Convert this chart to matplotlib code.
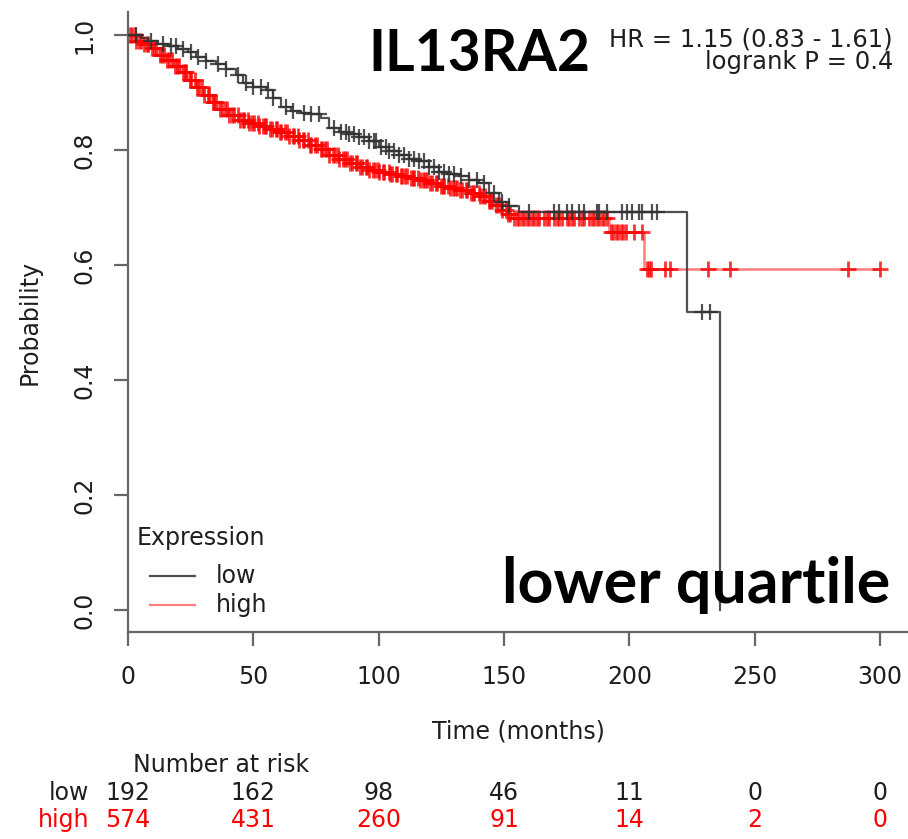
import numpy as np
import matplotlib
matplotlib.use("Agg")
import matplotlib.pyplot as plt
from matplotlib.lines import Line2D

# ---------------- data ----------------
low_times = [0, 5, 8, 12, 16, 20, 24, 27, 31, 35, 39, 43, 46, 50, 55, 58, 61, 65, 69,
             73, 77, 80, 84, 88, 92, 96, 100, 104, 108, 112, 116, 120, 124, 128, 132,
             136, 140, 144, 148, 152, 156, 223, 236]
low_surv = [1.0, 0.995, 0.99, 0.985, 0.98, 0.975, 0.97, 0.962, 0.955, 0.949, 0.94, 0.93,
            0.916, 0.91, 0.905, 0.89, 0.875, 0.868, 0.864, 0.862, 0.855, 0.838, 0.832,
            0.828, 0.823, 0.815, 0.806, 0.798, 0.791, 0.785, 0.78, 0.77, 0.762, 0.758,
            0.754, 0.748, 0.742, 0.725, 0.71, 0.702, 0.693, 0.518, 0.0]
low_end = 236
low_censor = [3, 9, 14, 17, 19, 22, 25, 28, 31, 36, 39, 44, 47, 50, 53, 56, 58, 63, 66,
              70, 73, 76, 82, 85, 87, 88, 90, 92, 94, 96, 98, 99, 101, 103, 104, 106,
              108, 110, 112, 114, 116, 118, 120, 122, 124, 126, 128, 130, 133, 136, 139,
              142, 146, 149, 152, 160, 170, 172, 175, 177, 180, 182, 187, 188, 191, 197,
              199, 201, 204, 205, 209, 211, 229, 232]

high_times = [0, 3, 6, 9, 12, 15, 18, 21, 24, 27, 30, 33, 36, 40, 44, 48, 52, 56, 60,
              64, 68, 72, 76, 80, 84, 88, 92, 96, 100, 104, 108, 112, 116, 120, 124,
              128, 132, 136, 140, 143, 146, 149, 151, 153, 192, 206]
high_surv = [1.0, 0.99, 0.985, 0.978, 0.965, 0.957, 0.946, 0.935, 0.922, 0.909, 0.896,
             0.883, 0.872, 0.861, 0.853, 0.847, 0.842, 0.837, 0.831, 0.825, 0.817, 0.809,
             0.801, 0.792, 0.784, 0.777, 0.771, 0.766, 0.762, 0.758, 0.755, 0.751, 0.747,
             0.743, 0.738, 0.734, 0.730, 0.726, 0.720, 0.712, 0.704, 0.696, 0.689, 0.682,
             0.657, 0.593]
high_end = 300
high_censor = [0.7, 1.4, 2.6, 3.1, 4.3, 5.2, 6.4, 7.7, 8.1, 9.6, 10.4, 11.3, 12.8, 13.5,
               14.2, 15.7, 16.3, 17.4, 18.9, 19.5, 20.2, 21.8, 22.6, 23.3, 24.7, 25.1,
               26.9, 27.4, 28.2, 29.6, 30.3, 31.8, 32.5, 33.9, 34.4, 35.2, 36.7, 37.3,
               38.8, 39.4, 40.1, 41.6, 42.3, 43.7, 44.5, 45.9, 46.2, 47.8, 48.3, 49.6,
               50.4, 51.7, 52.2, 53.8, 54.5, 55.1, 56.6, 57.3, 58.9, 59.4, 60.7, 61.2,
               62.8, 63.5, 64.1, 65.7, 66.4, 67.9, 68.3, 69.6, 70.2, 71.8, 72.5, 73.1,
               74.6, 75.4, 76.9, 77.3, 78.7, 79.5, 80.2, 81.8, 82.4, 83.6, 84.3, 85.9,
               86.5, 87.2, 88.7, 89.3, 90.8, 91.4, 92.6, 93.2, 94.9, 95.5, 96.1, 97.7,
               98.4, 99.8, 100.3, 101.6, 102.2, 103.9, 104.5, 105.1, 106.7, 107.3, 108.8,
               109.4, 110.6, 111.2, 112.9, 113.5, 114.1, 115.7, 116.3, 117.8, 118.5,
               119.2, 120.6, 121.3, 122.8, 123.4, 124.9, 125.6, 126.2, 127.7, 128.3,
               129.8, 130.5, 131.1, 132.6, 133.4, 134.9, 135.3, 136.7, 137.5, 138.2,
               139.8, 140.4, 141.6, 142.3, 143.9, 144.5, 145.2, 146.8, 147.4, 148.6,
               149.3, 150.7, 151.5, 152.4, 154, 155, 156, 157, 158, 159, 160, 161, 162,
               163, 164, 166, 167, 168, 170, 171, 172, 173, 175, 176, 177, 178, 180, 181,
               182, 184, 185, 186, 187, 188, 189, 190, 191,
               192.5, 193.5, 194.5, 195.5, 196.5, 197.5, 198.5, 202, 205,
               207, 207.6, 208.5, 214, 216, 231.5, 240, 287, 300]

group_names = ["low", "high"]
risk_times = [0, 50, 100, 150, 200, 250, 300]
risk_low = [192, 162, 98, 46, 11, 0, 0]
risk_high = [574, 431, 260, 91, 14, 2, 0]

x_ticks = [0, 50, 100, 150, 200, 250, 300]
y_ticks = [0.0, 0.2, 0.4, 0.6, 0.8, 1.0]

title_text = "IL13RA2"
subtitle_text = "lower quartile"
hr_text = "HR = 1.15 (0.83 - 1.61)"
p_text = "logrank P = 0.4"

# ---------------- figure ----------------
W, H = 908, 839
fig = plt.figure(figsize=(W / 100, H / 100), dpi=100)
fig.patch.set_facecolor("white")

def fx(px):
    return px / W

def fy(py):
    return 1 - py / H

ax = fig.add_axes([fx(128), fy(632), fx(908) - fx(128), fy(12) - fy(632)])
ax.set_xlim(0, 311.1)
ax.set_ylim(-0.0383, 1.04)

axis_col = "#666666"
txt_col = "#1e1e1e"
for s in ["top", "right"]:
    ax.spines[s].set_visible(False)
for s in ["left", "bottom"]:
    ax.spines[s].set_color(axis_col)
    ax.spines[s].set_linewidth(1.6)

ax.set_xticks(x_ticks)
ax.set_xticklabels([str(v) for v in x_ticks])
ax.set_yticks(y_ticks)
ax.set_yticklabels(["%.1f" % v for v in y_ticks])
ax.tick_params(axis="both", colors=axis_col, labelcolor=txt_col, labelsize=17,
               length=10, width=1.6)
ax.tick_params(axis="x", pad=14)
ax.tick_params(axis="y", pad=13)
for lbl in ax.get_yticklabels():
    lbl.set_rotation(90)
    lbl.set_va("center")
    lbl.set_ha("right")

ax.set_xlabel("Time (months)", fontsize=17, color=txt_col, labelpad=22)
fig.text(fx(30), fy(322), "Probability", rotation=90, fontsize=17, color=txt_col,
         ha="center", va="center")


def step_val(times, surv, t):
    idx = np.searchsorted(np.asarray(times), np.asarray(t), side="right") - 1
    return np.asarray(surv)[idx]


low_col = "#333333"
high_col = "#ff0000"

# low curve
lt = list(low_times) + [low_end]
ls = list(low_surv) + [low_surv[-1]]
ax.step(lt, ls, where="post", color=low_col, lw=1.6, alpha=0.85, zorder=3)
ax.plot(low_censor, step_val(low_times, low_surv, low_censor), ls="none", marker="+",
        ms=11, mew=1.6, color=low_col, alpha=0.85, zorder=4)

# high curve
ht = list(high_times) + [high_end]
hs = list(high_surv) + [high_surv[-1]]
ax.step(ht, hs, where="post", color=high_col, lw=1.8, alpha=0.5, zorder=2)
ax.plot(high_censor, step_val(high_times, high_surv, high_censor), ls="none",
        marker="+", ms=11, mew=2.0, color=high_col, alpha=0.8, zorder=2)

# legend (manual, R style)
fig.text(fx(137), fy(538), "Expression", fontsize=17, color=txt_col, ha="left",
         va="center")
fig.add_artist(Line2D([fx(150), fx(195)], [fy(576), fy(576)], color=low_col, lw=1.6,
                      alpha=0.85))
fig.add_artist(Line2D([fx(150), fx(195)], [fy(605), fy(605)], color=high_col, lw=1.6,
                      alpha=0.5))
fig.text(fx(216), fy(576), group_names[0], fontsize=17, color=txt_col, ha="left",
         va="center")
fig.text(fx(216), fy(605), group_names[1], fontsize=17, color=txt_col, ha="left",
         va="center")

# HR text
fig.text(fx(893), fy(47), hr_text, fontsize=17.5, color=txt_col, ha="right",
         va="baseline")
fig.text(fx(893), fy(69), p_text, fontsize=17.5, color=txt_col, ha="right",
         va="baseline")

# number at risk
fig.text(fx(221), fy(765), "Number at risk", fontsize=17, color=txt_col, ha="center",
         va="center")
fig.text(fx(89), fy(793), group_names[0], fontsize=17, color=txt_col, ha="right",
         va="center")
fig.text(fx(89), fy(820), group_names[1], fontsize=17, color=high_col, ha="right",
         va="center")
for t, nl, nh in zip(risk_times, risk_low, risk_high):
    xd = ax.transData.transform((t, 0))[0] / W
    fig.text(xd, fy(793), str(nl), fontsize=17, color=txt_col, ha="center",
             va="center")
    fig.text(xd, fy(820), str(nh), fontsize=17, color=high_col, ha="center",
             va="center")

# big overlay labels, fitted to the reference widths
renderer = fig.canvas.get_renderer()

def fit_text(s, x, y, width, ha, va, family):
    t = fig.text(fx(x), fy(y), s, fontsize=40, fontweight="bold", family=family,
                 color="black", ha=ha, va=va)
    w = t.get_window_extent(renderer).width
    t.set_fontsize(40 * width / w)
    return t

fit_text(title_text, 368, 71, 222, "left", "baseline", "Lato")
fit_text(subtitle_text, 890, 603, 388, "right", "baseline", "Lato")

fig.savefig("out.png", dpi=100, facecolor="white")
